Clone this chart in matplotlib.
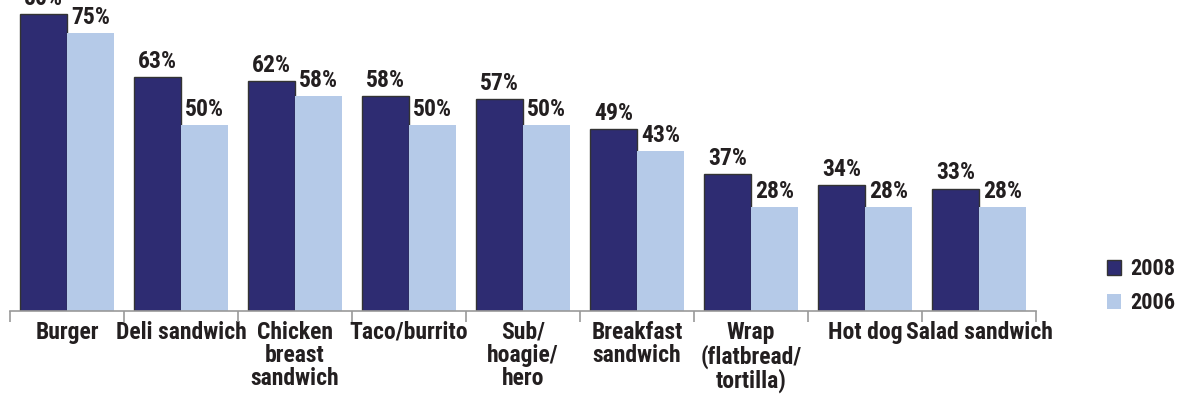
import matplotlib.pyplot as plt
import numpy as np

categories = ['Burger', 'Deli sandwich', 'Chicken\nbreast\nsandwich', 'Taco/burrito',
              'Sub/\nhoagie/\nhero', 'Breakfast\nsandwich', 'Wrap\n(flatbread/\ntortilla)',
              'Hot dog', 'Salad sandwich']
share_2008 = [80, 63, 62, 58, 57, 49, 37, 34, 33]
share_2006 = [75, 50, 58, 50, 50, 43, 28, 28, 28]

navy = '#2e2c72'
light = '#b5cae8'
ink = '#231f20'

plt.rcParams['font.family'] = ['Roboto Condensed', 'DejaVu Sans']
plt.rcParams['font.weight'] = 'bold'

fig = plt.figure(figsize=(11.77, 3.96), dpi=100)
ax = fig.add_axes([0.0085, 0.2146, 0.8717, 0.7854])

x = np.arange(len(categories))
w = 0.41
b1 = ax.bar(x - w / 2, share_2008, w, color=navy, edgecolor='#333333', linewidth=1, label='2008')
b2 = ax.bar(x + w / 2, share_2006, w, color=light, edgecolor='none', label='2006')

# percentage labels on top of every bar
for bars in (b1, b2):
    for rect in bars:
        h = rect.get_height()
        ax.text(rect.get_x() + rect.get_width() / 2, h + 1.1, f'{h:.0f}%',
                ha='center', va='bottom', fontsize=17, color=ink, clip_on=False)

ax.set_xlim(-0.5, len(categories) - 0.5)
ax.set_ylim(0, 83.8)
ax.set_yticks([])
for s in ('left', 'right', 'top'):
    ax.spines[s].set_visible(False)
ax.spines['bottom'].set_color('#999999')
ax.spines['bottom'].set_linewidth(1.2)

# names centred under the groups, ticks on the group boundaries
ax.set_xticks(x)
ax.set_xticklabels(categories, fontsize=17, color=ink, linespacing=1.02)
ax.set_xticks(np.arange(len(categories) + 1) - 0.5, minor=True)
ax.tick_params(axis='x', which='major', length=0, pad=7)
ax.tick_params(axis='x', which='minor', length=8, color='#999999', width=1.2)

leg = fig.legend(handles=[b1, b2], loc='upper left', bbox_to_anchor=(0.9405, 0.348),
                 frameon=False, fontsize=16, handlelength=0.64, handleheight=0.64,
                 handletextpad=0.4, labelspacing=0.55, borderpad=0, borderaxespad=0)
for t in leg.get_texts():
    t.set_color(ink)

fig.savefig('out.png', dpi=100)
